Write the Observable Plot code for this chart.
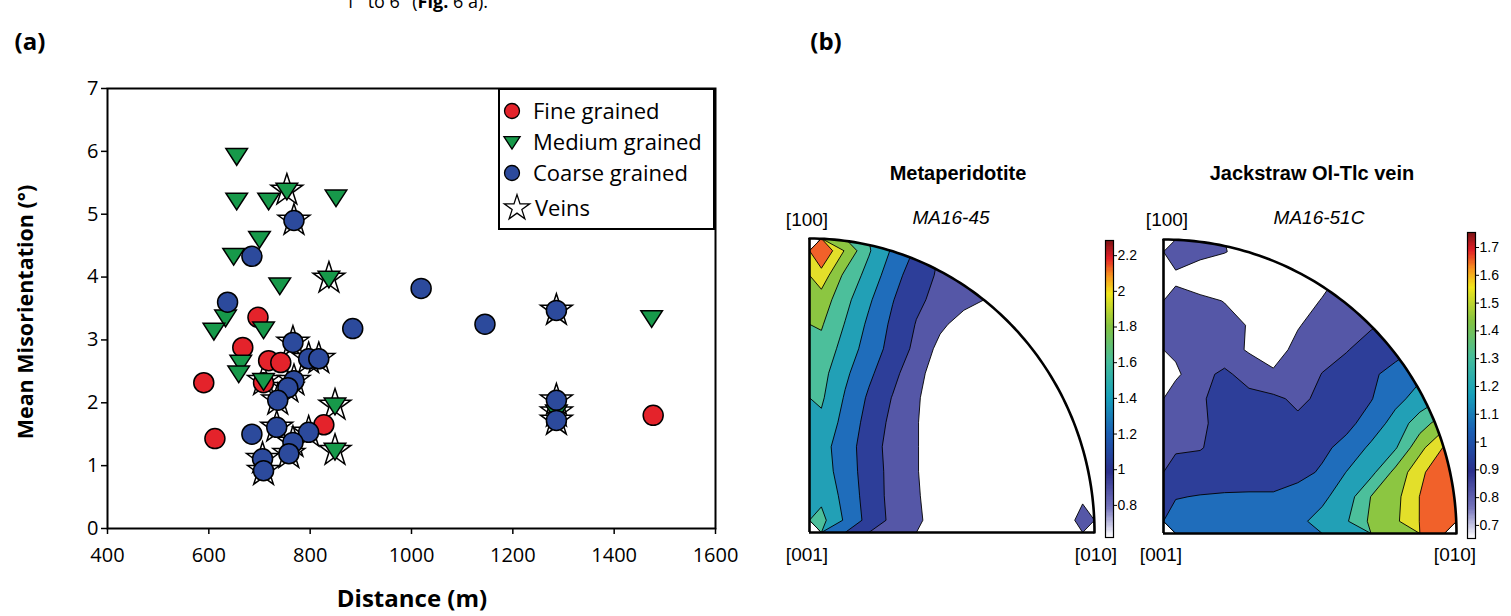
<!DOCTYPE html>
<html><head><meta charset="utf-8">
<script src="https://cdn.jsdelivr.net/npm/d3@7"></script>
<script src="https://cdn.jsdelivr.net/npm/@observablehq/plot@0.6"></script>
<style>
html,body{margin:0;padding:0;background:#fff;}
#page{position:relative;width:1511px;height:616px;overflow:hidden;background:#fff;}
.t{position:absolute;white-space:nowrap;line-height:1;color:#000;}
.ms{font-family:"Open Sans",sans-serif;}
.ar{font-family:"Liberation Sans",Arial,sans-serif;}
</style></head><body><div id="page"></div>
<script>
// ---------- Panel (a) data ----------
const xTicks = [400, 600, 800, 1000, 1200, 1400, 1600];
const yTicks = [0, 1, 2, 3, 4, 5, 6, 7];

const fineDistance = [590, 612, 667, 697, 708, 718, 742, 827, 1477];
const fineMisorientation = [2.32, 1.43, 2.88, 3.36, 2.32, 2.67, 2.64, 1.65, 1.80];
const fineVein = [0, 0, 0, 0, 0, 0, 0, 0, 0];

const mediumDistance = [655, 655, 718, 754, 851, 700, 649, 837, 740, 633, 610, 708, 663, 659, 708, 849, 849, 1286, 1474];
const mediumMisorientation = [5.93, 5.22, 5.22, 5.38, 5.27, 4.61, 4.34, 3.98, 3.87, 3.36, 3.15, 3.17, 2.64, 2.47, 2.35, 1.96, 1.24, 1.85, 3.35];
const mediumVein = [0, 0, 0, 1, 0, 0, 0, 1, 0, 0, 0, 0, 0, 0, 1, 1, 1, 1, 0];

const coarseDistance = [685, 637, 884, 766, 797, 817, 768, 756, 736, 685, 734, 797, 766, 758, 706, 708, 1019, 1145, 1286, 1286, 1286, 768];
const coarseMisorientation = [4.33, 3.60, 3.18, 2.96, 2.70, 2.70, 2.35, 2.24, 2.04, 1.50, 1.61, 1.53, 1.37, 1.19, 1.11, 0.92, 3.82, 3.25, 3.47, 2.04, 1.72, 4.90];
const coarseVein = [0, 0, 0, 1, 1, 1, 1, 1, 1, 0, 1, 1, 1, 1, 1, 1, 0, 0, 1, 1, 1, 1];

const legendLabels = ["Fine grained", "Medium grained", "Coarse grained", "Veins"];

// ---------- Panel (b) data ----------
const levelsMeta = [0.8, 1.0, 1.2, 1.4, 1.6, 1.8, 2.0, 2.2];
const levelsVein = [0.8, 0.9, 1.0, 1.1, 1.2, 1.3, 1.4, 1.5];
const cbarMetaTicks = [0.8, 1, 1.2, 1.4, 1.6, 1.8, 2, 2.2];
const cbarVeinTicks = [0.7, 0.8, 0.9, 1, 1.1, 1.2, 1.3, 1.4, 1.5, 1.6, 1.7];
const cbarMetaRange = [0.62, 2.285];
const cbarVeinRange = [0.653, 1.754];

// MUD values on a 12x12 grid over the IPF square, rows from [100] (top) down to [001]-[010] (bottom)
const metaGrid = [
  [2.40, 1.98, 1.62, 1.37, 1.17, 0.99, 0.93, 0.86, 0.79, 0.75, 0.72, 0.70],
  [2.12, 1.75, 1.53, 1.28, 1.09, 0.97, 0.89, 0.82, 0.78, 0.74, 0.71, 0.70],
  [1.91, 1.66, 1.43, 1.21, 1.04, 0.94, 0.86, 0.79, 0.75, 0.72, 0.70, 0.70],
  [1.82, 1.59, 1.36, 1.16, 0.99, 0.84, 0.72, 0.70, 0.69, 0.68, 0.68, 0.68],
  [1.74, 1.52, 1.31, 1.13, 0.95, 0.74, 0.69, 0.68, 0.68, 0.68, 0.68, 0.68],
  [1.67, 1.44, 1.24, 1.06, 0.86, 0.70, 0.68, 0.68, 0.68, 0.68, 0.68, 0.68],
  [1.63, 1.38, 1.17, 0.99, 0.82, 0.70, 0.68, 0.68, 0.68, 0.68, 0.68, 0.68],
  [1.56, 1.33, 1.13, 0.95, 0.81, 0.70, 0.68, 0.68, 0.68, 0.68, 0.68, 0.68],
  [1.47, 1.30, 1.09, 0.93, 0.81, 0.70, 0.68, 0.68, 0.68, 0.68, 0.68, 0.68],
  [1.49, 1.31, 1.10, 0.94, 0.81, 0.70, 0.68, 0.68, 0.68, 0.68, 0.68, 0.68],
  [1.55, 1.34, 1.11, 0.94, 0.82, 0.70, 0.68, 0.68, 0.68, 0.68, 0.70, 0.79],
  [1.66, 1.37, 1.13, 0.95, 0.83, 0.72, 0.69, 0.68, 0.68, 0.69, 0.76, 0.82]
];
const veinGrid = [
  [0.86, 0.83, 0.805, 0.76, 0.74, 0.74, 0.74, 0.76, 0.78, 0.81, 0.82, 0.84],
  [0.78, 0.74, 0.72, 0.72, 0.72, 0.74, 0.77, 0.82, 0.85, 0.88, 0.91, 0.91],
  [0.83, 0.82, 0.797, 0.76, 0.74, 0.76, 0.805, 0.85, 0.88, 0.91, 0.92, 0.92],
  [0.84, 0.84, 0.83, 0.795, 0.76, 0.795, 0.83, 0.86, 0.89, 0.92, 0.94, 0.95],
  [0.82, 0.84, 0.84, 0.79, 0.77, 0.82, 0.86, 0.895, 0.94, 0.97, 1.01, 1.03],
  [0.78, 0.87, 0.92, 0.86, 0.81, 0.84, 0.903, 0.94, 0.985, 1.03, 1.08, 1.12],
  [0.86, 0.89, 0.93, 0.93, 0.92, 0.88, 0.92, 0.95, 0.995, 1.07, 1.14, 1.21],
  [0.86, 0.885, 0.93, 0.95, 0.95, 0.92, 0.94, 0.975, 1.04, 1.14, 1.25, 1.36],
  [0.89, 0.895, 0.93, 0.96, 0.965, 0.96, 0.98, 1.03, 1.12, 1.19, 1.37, 1.51],
  [0.93, 0.94, 0.95, 0.96, 0.96, 0.97, 1.012, 1.103, 1.17, 1.33, 1.47, 1.60],
  [0.995, 1.005, 1.01, 1.01, 1.01, 1.04, 1.08, 1.15, 1.303, 1.37, 1.503, 1.65],
  [1.04, 1.03, 1.03, 1.04, 1.05, 1.08, 1.13, 1.19, 1.32, 1.38, 1.503, 1.68]
];

// ---------- styles ----------
const fineColor = "#e4232b", mediumColor = "#17994a", coarseColor = "#2c4a9c";
const bandColors = ["#ffffff", "#5557a7", "#2d3e99", "#1f6dbb", "#22a0b6", "#4cbf9b", "#8cc641", "#e3df2a", "#f1612a"];
const cmapT = [0, 0.1, 0.22, 0.35, 0.47, 0.59, 0.71, 0.82, 0.88, 0.94, 1];
const cmapColors = ["#ffffff", "#7473bb", "#2a2f8c", "#1a5fb4", "#16a0ba", "#45bd9b", "#84c341", "#f1e61b", "#f7931e", "#e21f26", "#7a1315"];

const page = document.getElementById("page");
function place(node, left, top) {
  node.style.position = "absolute";
  node.style.left = left + "px";
  node.style.top = top + "px";
  page.appendChild(node);
  return node;
}
function text(html, cx, cy, cls, css, rotate) {
  const d = document.createElement("div");
  d.className = "t " + cls;
  d.innerHTML = html;
  d.style.cssText += css || "";
  d.style.left = cx + "px";
  d.style.top = cy + "px";
  d.style.transform = "translate(-50%,-50%)" + (rotate ? " rotate(" + rotate + "deg)" : "");
  page.appendChild(d);
  return d;
}

const triangleDown = {
  draw(context, size) {
    const r = Math.sqrt(size / Math.PI);
    context.moveTo(-1.08 * r, -0.72 * r);
    context.lineTo(1.08 * r, -0.72 * r);
    context.lineTo(0, 0.95 * r);
    context.closePath();
  }
};

function rows(dist, mis, vein) {
  return dist.map((d, i) => ({distance: d, mis: mis[i], vein: vein[i]}));
}
const fine = rows(fineDistance, fineMisorientation, fineVein);
const medium = rows(mediumDistance, mediumMisorientation, mediumVein);
const coarse = rows(coarseDistance, coarseMisorientation, coarseVein);
const veins = [...fine, ...medium, ...coarse].filter(d => d.vein === 1);

// ---------- Panel (a) ----------
const scatter = Plot.plot({
  width: 760, height: 616,
  marginLeft: 107, marginRight: 45, marginTop: 88, marginBottom: 88,
  style: {fontFamily: '"Open Sans", sans-serif', fontSize: "20px", color: "black", background: "transparent", maxWidth: "none"},
  x: {domain: [400, 1600]},
  y: {domain: [0, 7]},
  marks: [
    Plot.axisX({ticks: xTicks, tickSize: 6, tickPadding: 13, tickFormat: "d", label: null, strokeWidth: 1.5}),
    Plot.axisY({ticks: yTicks, tickSize: 6, tickPadding: 3, tickFormat: "d", label: null, strokeWidth: 1.5}),
    Plot.dot(veins, {x: "distance", y: "mis", symbol: "star", r: 10, fill: "white", stroke: "black", strokeWidth: 1.5}),
    Plot.dot(fine, {x: "distance", y: "mis", symbol: "circle", r: 10, fill: fineColor, stroke: "black", strokeWidth: 1.5}),
    Plot.dot(medium, {x: "distance", y: "mis", symbol: triangleDown, r: 10, fill: mediumColor, stroke: "black", strokeWidth: 1.5}),
    Plot.dot(coarse, {x: "distance", y: "mis", symbol: "circle", r: 10, fill: coarseColor, stroke: "black", strokeWidth: 1.5}),
    Plot.frame({stroke: "black", strokeWidth: 2})
  ]
});
place(scatter, 0, 0);

// legend box
const box = document.createElement("div");
box.style.cssText = "width:217px;height:142px;border:2px solid #000;box-sizing:border-box;background:#fff;";
place(box, 498, 88);
const legendSymbols = [
  {type: d3.symbolCircle, r: 7.5, fill: fineColor, cx: 512, cy: 111},
  {type: triangleDown, r: 7.5, fill: mediumColor, cx: 512, cy: 142},
  {type: d3.symbolCircle, r: 7.5, fill: coarseColor, cx: 512, cy: 173},
  {type: d3.symbolStar, r: 8, fill: "white", cx: 517, cy: 208}
];
const legendTextX = [533, 533, 533, 535];
legendSymbols.forEach((s, i) => {
  const svg = d3.create("svg").attr("width", 40).attr("height", 40);
  svg.append("path").attr("transform", "translate(20,20)")
    .attr("d", d3.symbol(s.type, Math.PI * s.r * s.r)())
    .attr("fill", s.fill).attr("stroke", "black").attr("stroke-width", 1.3);
  place(svg.node(), s.cx - 20, s.cy - 20);
  const t = document.createElement("div");
  t.className = "t ms";
  t.style.fontSize = "22px";
  t.textContent = legendLabels[i];
  place(t, legendTextX[i], s.cy - 12);
});

// axis titles & panel letters
text("Mean Misorientation (°)", 25, 312, "ms", "font-size:21.5px;font-weight:700;", -90);
text("Distance (m)", 412, 598, "ms", "font-size:24px;font-weight:700;");
text("(a)", 30, 41, "ms", "font-size:24px;font-weight:700;");
text("(b)", 826, 41, "ms", "font-size:24px;font-weight:700;");
const cut = document.createElement("div");
cut.className = "t ms";
cut.style.fontSize = "18px";
cut.innerHTML = "1° to 6° (<b>Fig.</b> 6 a).";
place(cut, 345, -8);

// ---------- Panel (b) ----------
const arc = d3.range(90, -1, -1).map(a => ({u: Math.cos(a * Math.PI / 180), v: Math.sin(a * Math.PI / 180)}));
const maskPts = [...arc, {u: 1.05, v: 0}];

function ipf(grid, levels, w, h, ml, mr, mt, mb) {
  return Plot.plot({
    width: w, height: h, marginLeft: ml, marginRight: mr, marginTop: mt, marginBottom: mb,
    style: {background: "transparent", maxWidth: "none"},
    x: {domain: [0, 1], axis: null},
    y: {domain: [0, 1], axis: null},
    color: {type: "threshold", domain: levels, range: bandColors},
    marks: [
      Plot.contour(grid.flat(), {width: 12, height: 12, x1: 0, y1: 1, x2: 1, y2: 0,
        fill: Plot.identity, thresholds: levels, stroke: "black", strokeWidth: 0.9}),
      Plot.areaY(maskPts, {x: "u", y1: "v", y2: 1.08, fill: "white", curve: "linear"}),
      Plot.line(arc, {x: "u", y: "v", stroke: "black", strokeWidth: 2.6}),
      Plot.ruleX([0], {y1: 0, y2: 1, stroke: "black", strokeWidth: 2.6}),
      Plot.ruleY([0], {x1: 0, x2: 1, stroke: "black", strokeWidth: 2.6})
    ]
  });
}

function colorbar(range, ticks, w, h, ml, mr, mt, mb) {
  const [lo, hi] = range;
  const n = 240;
  const bins = d3.range(n).map(i => ({y1: lo + (hi - lo) * i / n, y2: lo + (hi - lo) * (i + 1) / n}));
  return Plot.plot({
    width: w, height: h, marginLeft: ml, marginRight: mr, marginTop: mt, marginBottom: mb,
    style: {fontFamily: '"Liberation Sans", Arial, sans-serif', fontSize: "14px", color: "black", background: "transparent", maxWidth: "none", overflow: "visible"},
    x: {domain: [0, 1], axis: null},
    y: {domain: [lo, hi], axis: null},
    color: {type: "linear", domain: cmapT.map(t => lo + t * (hi - lo)), range: cmapColors, interpolate: "rgb"},
    marks: [
      Plot.rect(bins, {x1: 0, x2: 1, y1: "y1", y2: "y2", fill: d => (d.y1 + d.y2) / 2, shapeRendering: "crispEdges"}),
      Plot.frame({stroke: "black", strokeWidth: 1.2}),
      Plot.axisY({anchor: "right", ticks, tickSize: 3, tickPadding: 1, tickFormat: d => String(d), label: null})
    ]
  });
}

place(ipf(metaGrid, levelsMeta, 300, 310, 9, 6, 8, 8), 800, 230);
place(ipf(veinGrid, levelsVein, 305, 310, 8, 4, 8, 8), 1155, 231);
place(colorbar(cbarMetaRange, cbarMetaTicks, 45, 320, 5, 32, 10, 13), 1100, 230);
place(colorbar(cbarVeinRange, cbarVeinTicks, 49, 326, 5, 36, 10, 10), 1462, 222);

const ar = "font-size:19px;";
text("Metaperidotite", 958, 173, "ar", "font-size:20px;font-weight:700;");
text("Jackstraw Ol-Tlc vein", 1312, 173, "ar", "font-size:20px;font-weight:700;");
text("[100]", 807, 219, "ar", ar);
text("MA16-45", 951, 217, "ar", ar + "font-style:italic;");
text("[001]", 807, 554, "ar", ar);
text("[010]", 1096, 554, "ar", ar);
text("[100]", 1167, 219, "ar", ar);
text("MA16-51C", 1319, 217, "ar", ar + "font-style:italic;");
text("[001]", 1161, 554, "ar", ar);
text("[010]", 1455, 554, "ar", ar);
</script></body></html>
